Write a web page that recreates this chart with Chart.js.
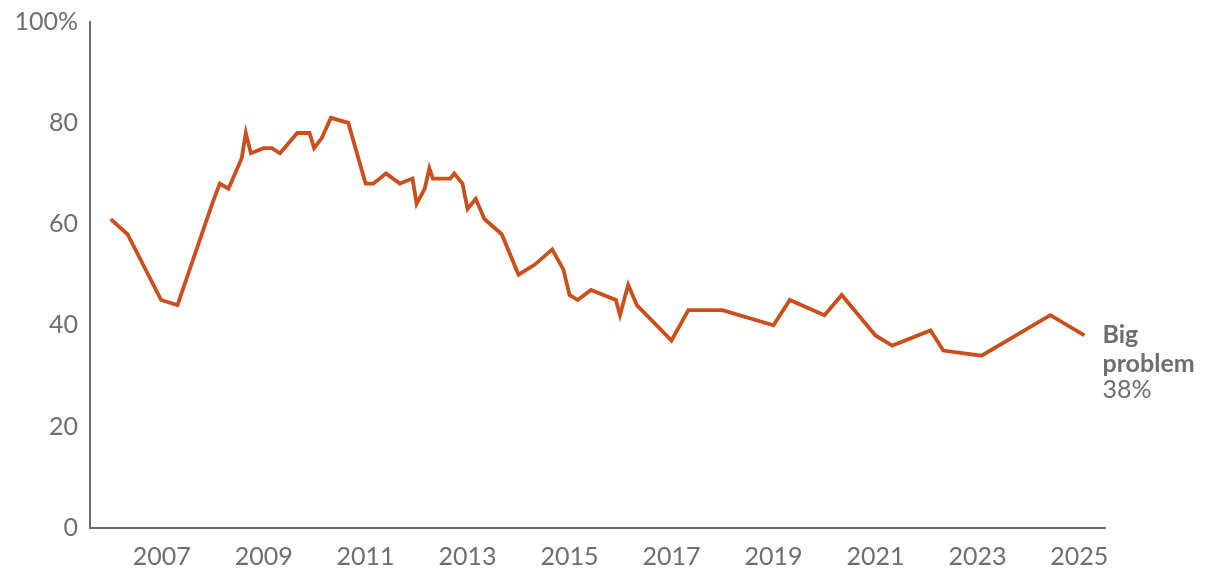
<!DOCTYPE html>
<html>
<head>
<meta charset="utf-8">
<script src="https://cdn.jsdelivr.net/npm/chart.js@4"></script>
<style>
  html, body { margin: 0; padding: 0; background: #ffffff; }
  #wrap { width: 1220px; height: 582px; position: relative; }
</style>
</head>
<body>
<div id="wrap"><canvas id="c" width="1220" height="582"></canvas></div>
<script>
// Survey dates (decimal years) and share saying it is a "big problem" (%)
const surveyDates = [2006.0, 2006.33, 2006.99, 2007.31, 2007.99, 2008.14, 2008.31, 2008.57, 2008.65, 2008.75,
  2009.0, 2009.16, 2009.32, 2009.66, 2009.9, 2009.99, 2010.14, 2010.32, 2010.66, 2011.0,
  2011.15, 2011.4, 2011.67, 2011.92, 2012.0, 2012.16, 2012.25, 2012.32, 2012.66, 2012.74,
  2012.9, 2013.0, 2013.16, 2013.33, 2013.67, 2014.0, 2014.32, 2014.66, 2014.88, 2015.0,
  2015.16, 2015.42, 2015.91, 2015.99, 2016.15, 2016.32, 2017.0, 2017.33, 2018.0, 2019.0,
  2019.32, 2020.0, 2020.34, 2021.0, 2021.33, 2022.08, 2022.33, 2023.08, 2024.43, 2025.1];
const bigProblem = [61, 58, 45, 44, 64, 68, 67, 73, 78, 74,
  75, 75, 74, 78, 78, 75, 77, 81, 80, 68,
  68, 70, 68, 69, 64, 67, 71, 69, 69, 70,
  68, 63, 65, 61, 58, 50, 52, 55, 51, 46,
  45, 47, 45, 42, 48, 44, 37, 43, 43, 40,
  45, 42, 46, 38, 36, 39, 35, 34, 42, 38];
const xTickYears = [2007, 2009, 2011, 2013, 2015, 2017, 2019, 2021, 2023, 2025];
const yTickValues = [0, 20, 40, 60, 80, 100];
const seriesLabel = ['Big', 'problem'];

const GREY = '#6d6e71';
const LINE = '#cb4f1d';
const FONT = 'Lato, "Open Sans", sans-serif';

const endLabel = {
  id: 'endLabel',
  afterDatasetsDraw(chart) {
    const meta = chart.getDatasetMeta(0);
    const pt = meta.data[meta.data.length - 1];
    const ctx = chart.ctx;
    const x = pt.x + 18;
    ctx.save();
    ctx.fillStyle = GREY;
    ctx.textAlign = 'left';
    ctx.textBaseline = 'alphabetic';
    ctx.font = 'bold 25px ' + FONT;
    ctx.fillText(seriesLabel[0], x, pt.y + 7.5);
    ctx.fillText(seriesLabel[1], x, pt.y + 36.5);
    ctx.font = '25px ' + FONT;
    ctx.fillText(bigProblem[bigProblem.length - 1] + '%', x, pt.y + 62.5);
    ctx.restore();
  }
};

new Chart(document.getElementById('c'), {
  type: 'line',
  data: {
    datasets: [{
      data: surveyDates.map((d, i) => ({ x: d, y: bigProblem[i] })),
      borderColor: LINE,
      borderWidth: 3.8,
      pointRadius: 0,
      tension: 0,
      fill: false
    }]
  },
  options: {
    responsive: false,
    animation: false,
    events: [],
    layout: { padding: { top: 21.7, right: 115, left: 0, bottom: 0 } },
    plugins: { legend: { display: false }, tooltip: { enabled: false } },
    scales: {
      x: {
        type: 'linear',
        min: 2005.594,
        max: 2025.503,
        afterBuildTicks(scale) { scale.ticks = xTickYears.map(v => ({ value: v })); },
        afterFit(scale) { scale.height = 54.3; scale.paddingLeft = 0; scale.paddingRight = 0; },
        grid: { display: false, drawTicks: false },
        border: { display: true, color: GREY, width: 2 },
        ticks: {
          color: GREY,
          font: { family: FONT, size: 25 },
          padding: 14,
          maxRotation: 0,
          autoSkip: false,
          callback: v => String(v)
        }
      },
      y: {
        min: 0,
        max: 100,
        afterBuildTicks(scale) { scale.ticks = yTickValues.map(v => ({ value: v })); },
        afterFit(scale) { scale.width = 90; scale.paddingTop = 0; scale.paddingBottom = 0; },
        grid: { display: false, drawTicks: false },
        border: { display: true, color: GREY, width: 2 },
        ticks: {
          color: GREY,
          font: { family: FONT, size: 25 },
          padding: 12,
          callback: v => (v === 100 ? '100%' : String(v))
        }
      }
    }
  },
  plugins: [endLabel]
});
</script>
</body>
</html>
